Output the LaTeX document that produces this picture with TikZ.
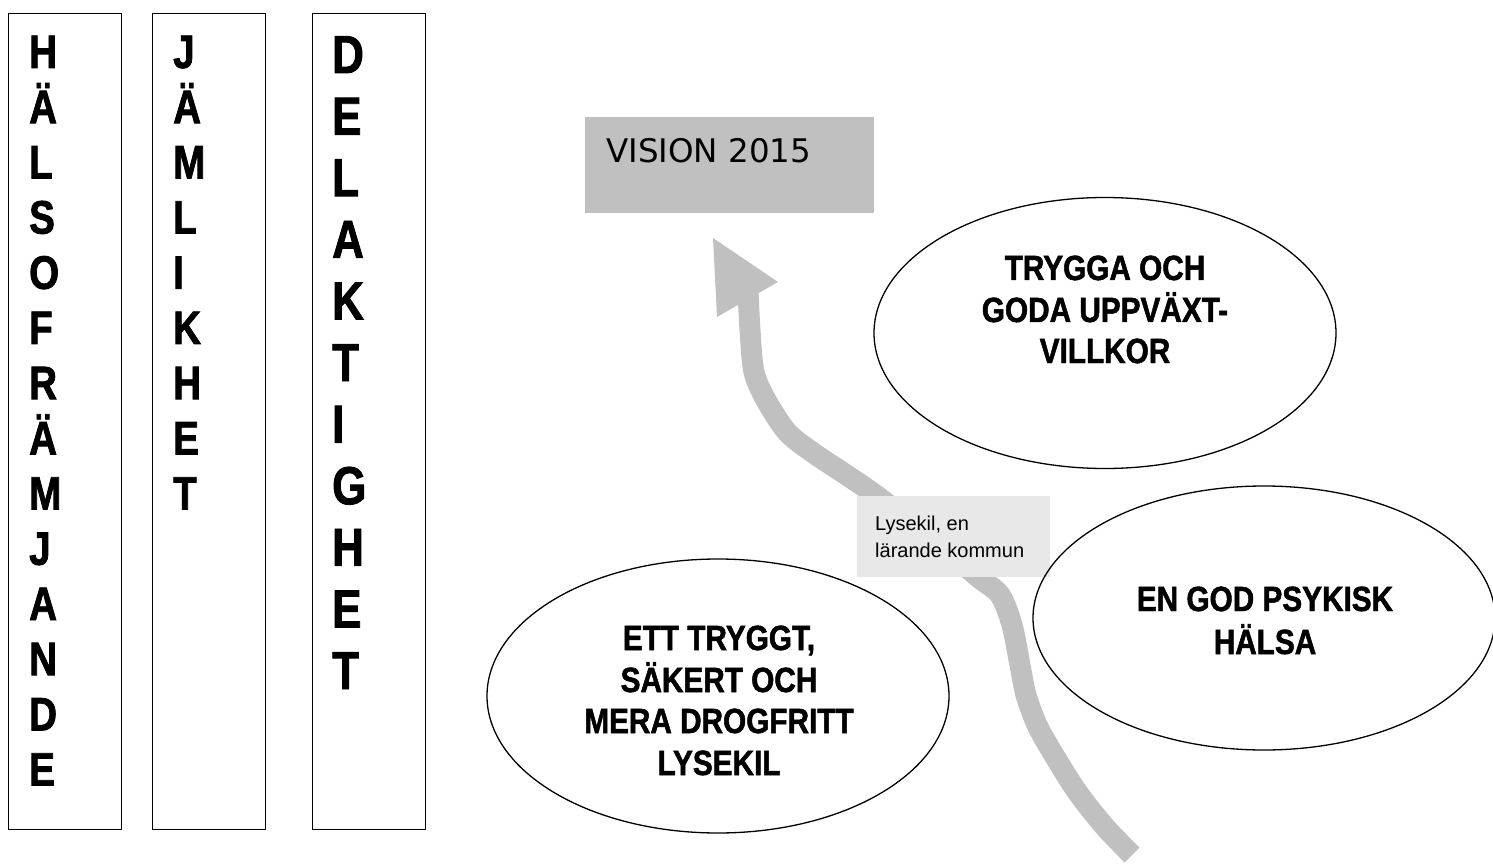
\documentclass[tikz,border=0pt]{standalone}
\usepackage{fontspec}
\setmainfont{Liberation Sans}
\newfontfamily\narrowbold{Liberation Sans Bold}[FakeStretch=0.82, FakeBold=1.6]
\newfontfamily\ellfont{Liberation Sans Bold}[FakeStretch=0.85, FakeBold=1.4]
\newfontfamily\visionfont{DejaVu Sans}
\usetikzlibrary{shapes.geometric}
\definecolor{roadgray}{HTML}{C0C0C0}
\definecolor{labelgray}{HTML}{E8E8E8}
\tikzset{
  colbox/.style={draw=black, line width=1.3pt, inner sep=0, anchor=north west, minimum width=113, minimum height=816},
  letterA/.style={anchor=base west, inner sep=0, font=\narrowbold\fontsize{47}{47}\selectfont},
  letterB/.style={anchor=base west, inner sep=0, font=\narrowbold\fontsize{53.5}{53.5}\selectfont},
  ell/.style={draw=black, line width=1.3pt, ellipse, inner sep=0, minimum width=462},
  elltext/.style={anchor=base, inner sep=0, font=\ellfont\fontsize{35}{35}\selectfont},
  visionbox/.style={fill=roadgray, draw=none, inner sep=0, anchor=north west},
  labelbox/.style={fill=labelgray, draw=none, inner sep=0, anchor=north west},
  labeltext/.style={anchor=base west, inner sep=0, font=\fontsize{20}{20}\selectfont},
  road/.style={draw=roadgray, line width=21pt, line join=round, line cap=butt},
  roadhead/.style={fill=roadgray, draw=none}
}
\begin{document}
\begin{tikzpicture}[x=1pt, y=-1pt]
\useasboundingbox (0,0) rectangle (1493,866);

% column boxes
\node[colbox] (b1) at (8,13) {};
\node[colbox] (b2) at (152,13) {};
\node[colbox] (b3) at (312,13) {};

\foreach \ch [count=\i] in {H,Ä,L,S,O,F,R,Ä,M,J,A,N,D,E}
  \node[letterA] (h\i) at (29, {68+55.2*(\i-1)}) {\ch};
\foreach \ch [count=\i] in {J,Ä,M,L,I,K,H,E,T}
  \node[letterA] (j\i) at (173, {68+55.2*(\i-1)}) {\ch};
\foreach \ch [count=\i] in {D,E,L,A,K,T,I,G,H,E,T}
  \node[letterB] (d\i) at (332, {73+61.6*(\i-1)}) {\ch};

% vision box
\node[visionbox, minimum width=289, minimum height=96] (vb) at (585,117) {};
\node[anchor=base west, inner sep=0, font=\visionfont\fontsize{32.5}{32.5}\selectfont] (vt) at (606,163) {VISION 2015};

% road arrow
\draw[road] plot[smooth, tension=0.5] coordinates {
  (748,290) (750,330) (754,372) (766,400) (787,432) (812,452) (845,474)
  (877,496) (930,537) (978,577) (1000,595) (1012,625) (1020,665) (1026,695)
  (1038,727) (1057,760) (1078,793) (1105,827) (1132,855)};
\coordinate (t1) at (713,238);
\coordinate (t2) at (778,282);
\coordinate (t3) at (717,317);
\fill[roadhead] (t1) -- (t2) -- (t3) -- cycle;

% label box
\node[labelbox, minimum width=193, minimum height=81] (lb) at (857,496) {};
\node[labeltext] (l1) at (875,530) {Lysekil, en};
\node[labeltext] (l2) at (875,557) {lärande kommun};

% ellipses
\node[ell, minimum height=271] (e1) at (1105,333) {};
\node[elltext] (e1a) at (1105,280) {TRYGGA OCH};
\node[elltext] (e1b) at (1105,322) {GODA UPPVÄXT-};
\node[elltext] (e1c) at (1105,363) {VILLKOR};

\node[ell, minimum height=274] (e2) at (718,696) {};
\node[elltext] (e2a) at (719,650) {ETT TRYGGT,};
\node[elltext] (e2b) at (719,692) {SÄKERT OCH};
\node[elltext] (e2c) at (719,733) {MERA DROGFRITT};
\node[elltext] (e2d) at (719,775) {LYSEKIL};

\node[ell, minimum height=264] (e3) at (1264,618) {};
\node[elltext] (e3a) at (1265,611) {EN GOD PSYKISK};
\node[elltext] (e3b) at (1265,654) {HÄLSA};
\end{tikzpicture}
\end{document}
